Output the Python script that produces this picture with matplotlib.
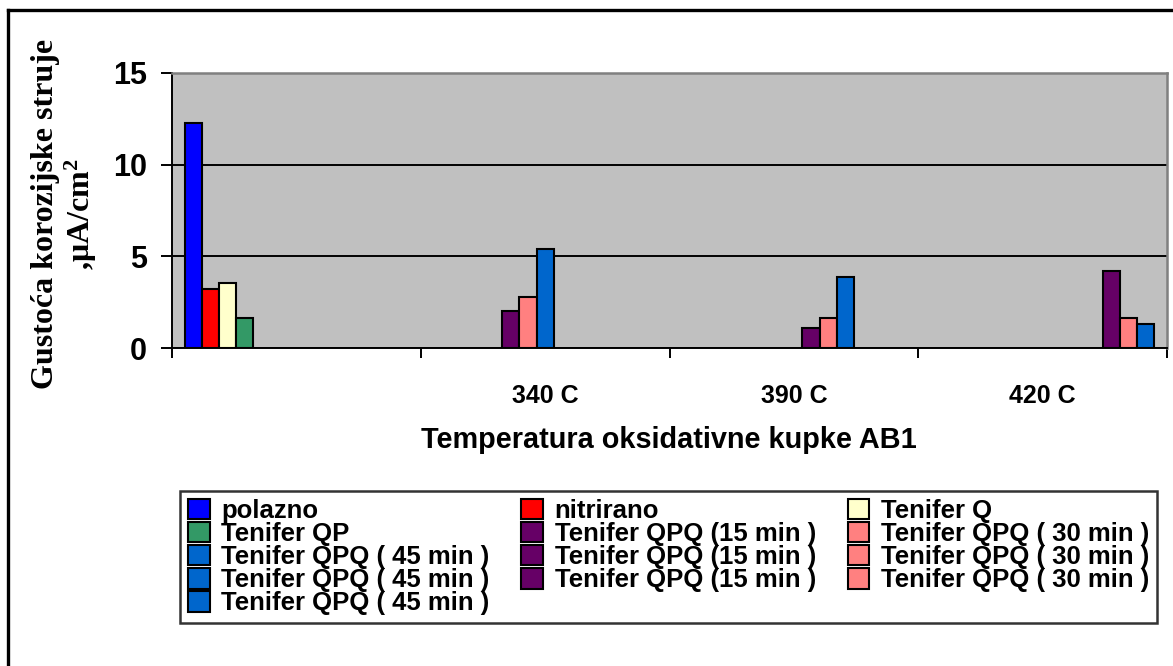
import numpy as np
import matplotlib
matplotlib.use("Agg")
import matplotlib.pyplot as plt
from matplotlib.lines import Line2D
from matplotlib.patches import Patch

categories = ["", "340 C", "390 C", "420 C"]

series_names = [
    "polazno", "nitrirano", "Tenifer Q", "Tenifer QP",
    "Tenifer QPQ (15 min )", "Tenifer QPQ ( 30 min )", "Tenifer QPQ ( 45 min )",
    "Tenifer QPQ (15 min )", "Tenifer QPQ ( 30 min )", "Tenifer QPQ ( 45 min )",
    "Tenifer QPQ (15 min )", "Tenifer QPQ ( 30 min )", "Tenifer QPQ ( 45 min )",
]
series_colors = [
    "#0000FF", "#FF0000", "#FFFFCC", "#339966",
    "#660066", "#FF8080", "#0066CC",
    "#660066", "#FF8080", "#0066CC",
    "#660066", "#FF8080", "#0066CC",
]

# values, per category (series in order)
vals_start = [12.28, 3.2, 3.56, 1.62]   # polazno, nitrirano, Tenifer Q, Tenifer QP
vals_340 = [2.0, 2.8, 5.38]             # QPQ 15 / 30 / 45 min
vals_390 = [1.1, 1.65, 3.88]
vals_420 = [4.18, 1.65, 1.31]

n_ser = len(series_names)
data = np.full((n_ser, len(categories)), np.nan)
data[0:4, 0] = vals_start
data[4:7, 1] = vals_340
data[7:10, 2] = vals_390
data[10:13, 3] = vals_420

plt.rcParams.update({
    "mathtext.fontset": "custom",
    "mathtext.rm": "Liberation Serif:bold",
    "mathtext.it": "Liberation Serif:italic:bold",
    "mathtext.bf": "Liberation Serif:bold",
})

W, H = 1173, 666
fig = plt.figure(figsize=(W / 100, H / 100), dpi=100, facecolor="white")

# outer chart frame (runs off the right/bottom of the picture)
fig.add_artist(Line2D([8 / W, 8 / W], [-0.05, 1 - 10 / H], transform=fig.transFigure,
                      color="black", lw=2.4))
fig.add_artist(Line2D([8 / W, 1.05], [1 - 10 / H, 1 - 10 / H], transform=fig.transFigure,
                      color="black", lw=2.4))

ax = fig.add_axes([172 / W, 1 - 348 / H, (1167 - 172) / W, (348 - 73) / H])
ax.set_facecolor("#C0C0C0")

bw = 1 / 14.5
for i in range(n_ser):
    x = np.arange(len(categories)) + 0.75 * bw + (i + 0.5) * bw
    ax.bar(x, data[i], width=bw, color=series_colors[i], edgecolor="black",
           linewidth=1.5, zorder=3)

ax.set_xlim(0, len(categories))
ax.set_ylim(0, 15)
ax.set_yticks([0, 5, 10, 15])
ax.yaxis.grid(True, color="black", lw=1.4, zorder=1)
ax.set_axisbelow(True)

ax.set_xticks(np.arange(len(categories) + 1))
ax.set_xticklabels([])
ax.set_xticks(np.arange(len(categories)) + 0.5, minor=True)
ax.set_xticklabels(categories, minor=True, fontsize=18, fontweight="bold",
                   family="Liberation Sans")
ax.tick_params(axis="x", which="major", length=7, width=1.4, direction="out")
ax.tick_params(axis="x", which="minor", length=0, pad=26)
ax.tick_params(axis="y", length=8, width=1.4, pad=10, labelsize=22)
for lab in ax.get_yticklabels():
    lab.set_fontweight("bold")
    lab.set_family("Liberation Sans")

for side in ("top", "right"):
    ax.spines[side].set_color("#808080")
    ax.spines[side].set_linewidth(1.8)
for side in ("left", "bottom"):
    ax.spines[side].set_color("black")
    ax.spines[side].set_linewidth(1.4)

fig.text(669 / W, 1 - 440 / H, "Temperatura oksidativne kupke AB1", ha="center",
         va="center", fontsize=20.8, fontweight="bold", family="Liberation Sans")

fig.text(65 / W, 1 - 214 / H, "Gustoća korozijske struje\n,μA/cm$^2$", rotation=90,
         ha="center", va="center", multialignment="center", fontsize=23,
         fontweight="bold", family="Liberation Serif", linespacing=1.1)

# legend: Excel fills rows first, matplotlib fills columns first
order = [0, 3, 6, 9, 12, 1, 4, 7, 10, 2, 5, 8, 11]
handles = [Patch(facecolor=series_colors[k], edgecolor="black", linewidth=1.5)
           for k in order]
labels = [series_names[k] for k in order]
leg = fig.legend(handles, labels, ncol=3, mode="expand",
                 bbox_to_anchor=(180 / W, 1 - 629 / H, (1157 - 180) / W, (629 - 491) / H),
                 loc="upper left", frameon=True, fancybox=False, edgecolor="black",
                 prop={"family": "Liberation Sans", "weight": "bold", "size": 18.5},
                 handlelength=0.85, handleheight=0.85, handletextpad=0.45,
                 labelspacing=-0.04, borderpad=0.3, borderaxespad=0,
                 columnspacing=0.3)
leg.get_frame().set_linewidth(1.8)

fig.savefig("out.png", dpi=100, facecolor="white")
